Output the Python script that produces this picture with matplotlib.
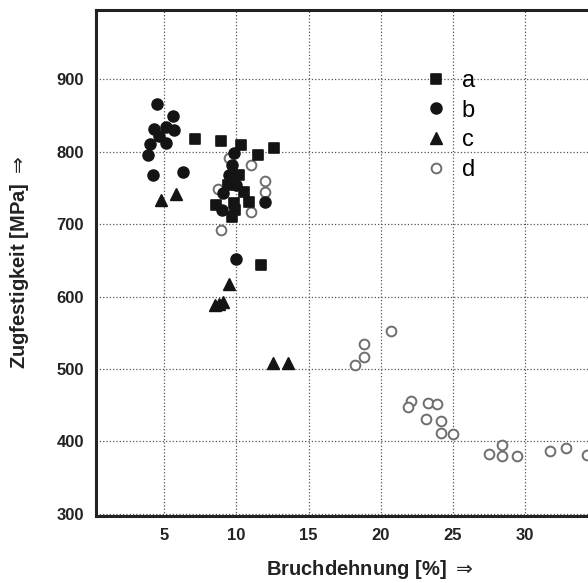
import numpy as np
import matplotlib
matplotlib.use("Agg")
import matplotlib.pyplot as plt
from matplotlib.markers import MarkerStyle

plt.rcParams["font.family"] = ["Liberation Sans", "DejaVu Sans"]

# ── data ─────────────────────────────────────────────────────────────────────
a_x = [7.1, 8.9, 10.3, 11.5, 12.6, 8.6, 9.8, 9.7, 10.5, 10.9, 10.2, 9.4, 9.9, 11.7]
a_y = [817, 815, 810, 796, 805, 726, 729, 710, 745, 730, 768, 754, 719, 643]

b_x = [4.5, 5.6, 4.3, 5.1, 5.7, 4.6, 5.1, 4.0, 3.9, 4.2, 6.3,
       9.8, 9.7, 9.5, 10.0, 9.1, 9.0, 12.0, 10.0]
b_y = [866, 849, 831, 834, 830, 822, 812, 811, 796, 768, 772,
       799, 782, 768, 754, 743, 719, 731, 652]

c_x = [4.8, 5.8, 9.5, 8.5, 8.8, 9.1, 12.5, 13.6]
c_y = [733, 742, 618, 588, 590, 592, 508, 508]

d_x = [8.7, 8.9, 9.5, 11.0, 12.0, 12.0, 11.0,
       20.7, 18.8, 18.8, 18.2, 22.1, 21.9, 23.3, 23.9, 23.1, 24.2, 24.2, 25.0,
       27.5, 28.4, 28.4, 29.4, 31.7, 32.8, 34.3]
d_y = [748, 692, 791, 782, 759, 745, 717,
       553, 534, 516, 505, 456, 447, 453, 452, 431, 428, 412, 410,
       382, 395, 380, 380, 387, 391, 381]

x_ticks = [5, 10, 15, 20, 25, 30]
y_ticks = [300, 400, 500, 600, 700, 800, 900]

# ── figure ───────────────────────────────────────────────────────────────────
fig = plt.figure(figsize=(5.88, 5.83), dpi=100)
ax = fig.add_axes([0.164, 0.115, 0.852, 0.868])

ink = "#141414"
sq = MarkerStyle("s", joinstyle="round")
ax.plot(a_x, a_y, ls="none", marker=sq, ms=7.5, color=ink, mec=ink, mew=1.2, label="a")
ax.plot(b_x, b_y, ls="none", marker="o", ms=8, color=ink, mec=ink, label="b")
ax.plot(c_x, c_y, ls="none", marker="^", ms=8.5, color=ink, mec=ink, label="c")
ax.plot(d_x, d_y, ls="none", marker="o", ms=7, mfc="white", mec="#6e6e6e", mew=1.4,
        label="d", zorder=1.5)

ax.set_xlim(0.3, 35)
ax.set_ylim(297, 996)
ax.set_xticks(x_ticks)
ax.set_yticks(y_ticks)
ax.tick_params(length=0, labelsize=12, pad=9)
for lab in ax.get_xticklabels() + ax.get_yticklabels():
    lab.set_fontweight("bold")
    lab.set_color("#222222")

ax.grid(True, ls=":", lw=0.9, color="#555555")
ax.set_axisbelow(True)
for side in ["left", "top", "bottom", "right"]:
    ax.spines[side].set_linewidth(2.2)
    ax.spines[side].set_color("#222222")

ax.set_xlabel(r"Bruchdehnung [%] $\Rightarrow$", fontsize=14.5, fontweight="bold",
              color="#222222")
ax.set_ylabel(r"Zugfestigkeit [MPa] $\Rightarrow$", fontsize=14.5, fontweight="bold",
              color="#222222")
ax.xaxis.set_label_coords(0.546, -0.084)
ax.yaxis.set_label_coords(-0.131, 0.5)

ax.legend(loc="upper left", bbox_to_anchor=(0.654, 0.881), frameon=False,
          fontsize=17, handlelength=1.0, handletextpad=0.6, labelspacing=0.32,
          borderpad=0, borderaxespad=0)

fig.savefig("out.png", dpi=100)
